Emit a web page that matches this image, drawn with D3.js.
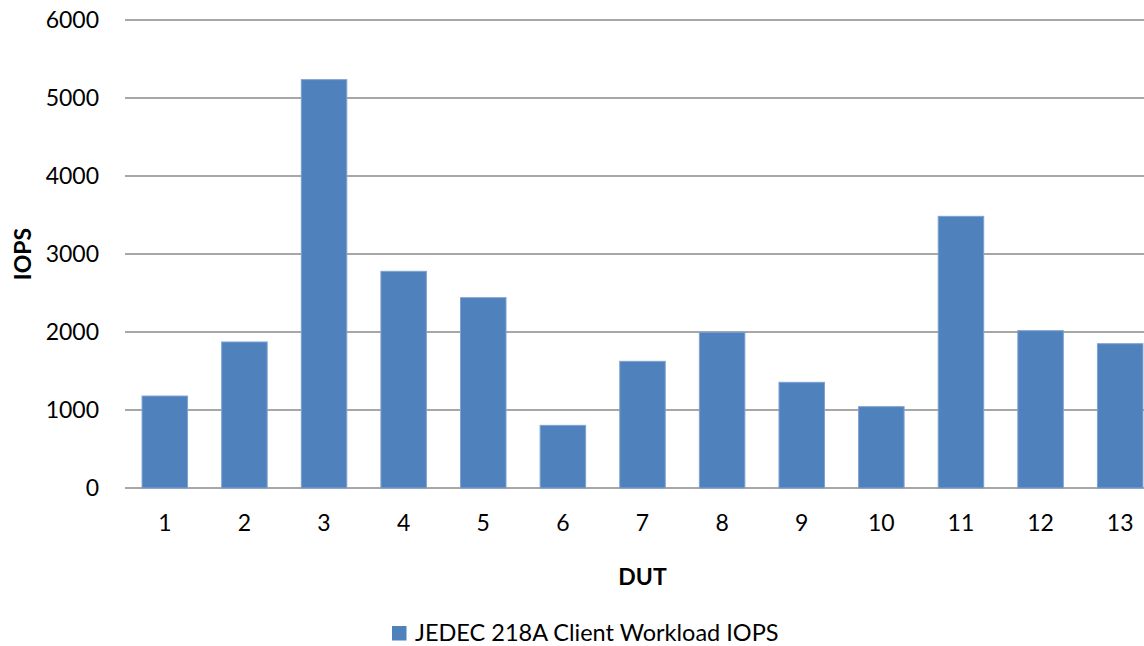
<!DOCTYPE html>
<html>
<head>
<meta charset="utf-8">
<script src="https://cdn.jsdelivr.net/npm/d3@7/dist/d3.min.js"></script>
<style>
  html, body { margin: 0; padding: 0; background: #fff; }
  svg { display: block; font-family: Lato, "Open Sans", sans-serif; }
</style>
</head>
<body>
<svg id="chart" width="1144" height="646"></svg>
<script>
const categories = ["1","2","3","4","5","6","7","8","9","10","11","12","13"];
const iops = [1179, 1872, 5235, 2778, 2440, 803, 1624, 1996, 1355, 1043, 3483, 2017, 1850];
const yTicks = [0, 1000, 2000, 3000, 4000, 5000, 6000];
const seriesName = "JEDEC 218A Client Workload IOPS";
const xTitle = "DUT";
const yTitle = "IOPS";

const svg = d3.select("#chart");
const plotL = 125, plotR = 1160, plotT = 20, plotB = 488;

const x = d3.scaleBand().domain(categories).range([plotL, plotR])
  .paddingInner(3/7).paddingOuter(3/14);
const y = d3.scaleLinear().domain([0, 6000]).range([plotB, plotT]);

// gridlines
svg.append("g").selectAll("line").data(yTicks).join("line")
  .attr("x1", plotL).attr("x2", plotR)
  .attr("y1", d => y(d)).attr("y2", d => y(d))
  .attr("stroke", "#8a8a8a").attr("stroke-width", 1.6);

// y axis labels
const yAxis = d3.axisLeft(y).tickValues(yTicks).tickSize(0).tickPadding(0).tickFormat(d3.format("d"));
const gy = svg.append("g").attr("transform", `translate(99,0)`).call(yAxis);
gy.select(".domain").remove();
gy.selectAll("text").attr("font-size", 23).attr("fill", "#000").attr("font-family", "Lato, sans-serif");

// bars
svg.append("g").selectAll("rect").data(iops).join("rect")
  .attr("x", (d, i) => x(categories[i]))
  .attr("width", x.bandwidth())
  .attr("y", d => y(d))
  .attr("height", d => y(0) - y(d))
  .attr("fill", "#4F81BD")
  .attr("stroke", "#7ea2d0").attr("stroke-width", 1);

// x axis labels
const xAxis = d3.axisBottom(x).tickSize(0).tickPadding(0);
const gx = svg.append("g").attr("transform", `translate(0,${plotB + 43})`).call(xAxis);
gx.select(".domain").remove();
gx.selectAll("text").attr("font-size", 23).attr("fill", "#000").attr("font-family", "Lato, sans-serif").attr("dy", "0em");

// axis titles
svg.append("text").attr("x", (plotL + plotR) / 2).attr("y", 577).attr("dy", "0.35em")
  .attr("text-anchor", "middle").attr("font-size", 23).attr("font-weight", "bold").text(xTitle);
svg.append("text").attr("transform", `translate(23,${(plotT + plotB) / 2}) rotate(-90)`)
  .attr("dy", "0.35em").attr("text-anchor", "middle").attr("font-size", 23).attr("font-weight", "bold").text(yTitle);

// legend
const lg = svg.append("g");
lg.append("rect").attr("x", 392).attr("y", 626).attr("width", 14.5).attr("height", 14.5).attr("fill", "#4F81BD");
lg.append("text").attr("x", 415).attr("y", 640.5).attr("font-size", 23.5).text(seriesName);
</script>
</body>
</html>
